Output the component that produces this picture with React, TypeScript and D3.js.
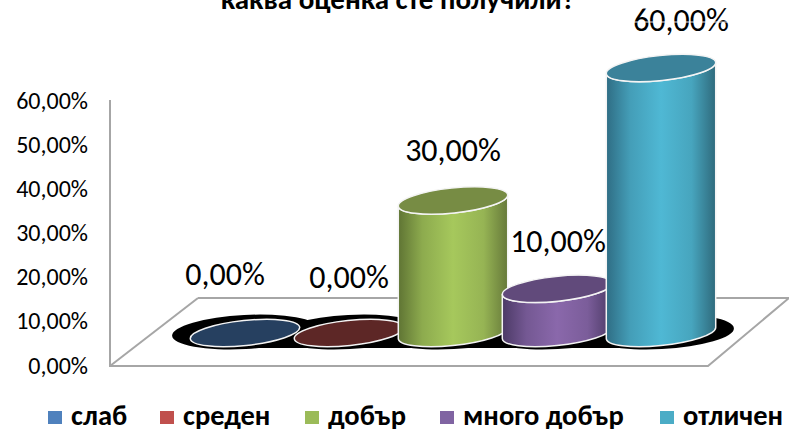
import React from "react";
import * as d3 from "d3";

const categories = ["слаб", "среден", "добър", "много добър", "отличен"];
const values = [0, 0, 30, 10, 60];
const valueLabels = ["0,00%", "0,00%", "30,00%", "10,00%", "60,00%"];
const ticks = [0, 10, 20, 30, 40, 50, 60];
const title = "каква оценка сте получили?";
const legendSquareX = [48, 160, 305, 440, 660];
const labelAnchors = [[225, 285], [349, 288], [453, 161], [558, 252], [681, 31]];
const sideColors = [
  ["#1c3350", "#376092", "#1c3350"],
  ["#5c1f1e", "#a84644", "#5c1f1e"],
  ["#5f7434", "#a6c85c", "#66793a"],
  ["#4c3a66", "#8a68ab", "#4c3a66"],
  ["#2f6d84", "#4fb8d4", "#2f6a7c"],
];
const topColors = ["#264060", "#5d2726", "#778c44", "#614a7b", "#3b829a"];
const legendColors = ["#4f81bd", "#c0504d", "#9bbb59", "#8064a2", "#4bacc6"];

const FONT = "Carlito, Lato, 'Open Sans', sans-serif";

const axisY = d3.scaleLinear().domain([0, 60]).range([366, 101]);
const barY = d3.scaleLinear().domain([0, 60]).range([333, 68]);
const barX = d3.scalePoint<string>().domain(categories).range([245, 661]);

const RX = 55;
const RY = 12.5;
const TILT = -6;

function edge(cx: number, cy: number, sign: number) {
  const a = (TILT * Math.PI) / 180;
  const tx = Math.atan((-RY * Math.sin(a)) / (RX * Math.cos(a)));
  const ex = RX * Math.cos(tx) * Math.cos(a) - RY * Math.sin(tx) * Math.sin(a);
  const ey = RX * Math.cos(tx) * Math.sin(a) + RY * Math.sin(tx) * Math.cos(a);
  return [cx + sign * ex, cy + sign * ey];
}

function bodyPath(cx: number, top: number, bottom: number) {
  const p = d3.path();
  const [lx, ly] = edge(cx, top, -1);
  const [rx, ry] = edge(cx, top, 1);
  const [lbx, lby] = edge(cx, bottom, -1);
  const [rbx, rby] = edge(cx, bottom, 1);
  p.moveTo(lx, ly);
  p.lineTo(lbx, lby);
  return `${p.toString()}A${RX},${RY} ${TILT} 0 0 ${rbx},${rby}L${rx},${ry}A${RX},${RY} ${TILT} 0 1 ${lx},${ly}Z`;
}

export default function App() {
  const floor = d3.line()([[198, 298], [789, 298]]) ?? "";
  const side = d3.line()([[110, 366], [198, 298]]) ?? "";
  const front = d3.line()([[110, 100], [110, 366], [708, 366], [789, 298]]) ?? "";
  const first = barX(categories[0]) as number;
  const last = barX(categories[categories.length - 1]) as number;
  return (
    <svg width={789} height={431} style={{ position: "absolute", left: 0, top: 0, background: "#fff" }}>
      <defs>
        {sideColors.map((c, i) => (
          <linearGradient id={`g${i}`} key={i} x1="0" x2="1" y1="0" y2="0">
            <stop offset="0" stopColor={c[0]} />
            <stop offset="0.22" stopColor={d3.interpolateRgb(c[0], c[1])(0.65)} />
            <stop offset="0.5" stopColor={c[1]} />
            <stop offset="0.78" stopColor={d3.interpolateRgb(c[2], c[1])(0.75)} />
            <stop offset="1" stopColor={c[2]} />
          </linearGradient>
        ))}
      </defs>
      <text x={398} y={9} textAnchor="middle" fontFamily={FONT} fontWeight={700} fontSize={29} fill="#000">{title}</text>

      <path d={floor} fill="none" stroke="#a6a6a6" strokeWidth={2} />
      <path d={side} fill="none" stroke="#a6a6a6" strokeWidth={2} />
      <path d={front} fill="none" stroke="#a6a6a6" strokeWidth={2} />

      {ticks.map((t) => (
        <text key={t} x={88} y={axisY(t) + 7.5} textAnchor="end" fontFamily={FONT} fontSize={24} fill="#000">
          {`${t},00%`}
        </text>
      ))}

      <rect x={first} y={322} width={last - first} height={26} fill="#000" />
      {categories.map((c) => (
        <ellipse key={c} cx={barX(c)} cy={332} rx={73} ry={17} fill="#000" transform={`rotate(-3 ${barX(c)} 332)`} />
      ))}

      {categories.map((c, i) => {
        const cx = barX(c) as number;
        const top = barY(values[i]);
        const h = values[i] > 0;
        return (
          <g key={c} stroke="#f4f4f4" strokeWidth={1.5}>
            {h && <path d={bodyPath(cx, top, barY(0))} fill={`url(#g${i})`} />}
            <ellipse cx={cx} cy={top} rx={RX} ry={RY} fill={topColors[i]} transform={`rotate(${TILT} ${cx} ${top})`} />
          </g>
        );
      })}

      {valueLabels.map((l, i) => (
        <text key={i} x={labelAnchors[i][0]} y={labelAnchors[i][1]} textAnchor="middle" fontFamily={FONT} fontSize={32} fill="#000">{l}</text>
      ))}
      <path d={d3.line()([[630, 22], [735, 22]]) ?? ""} stroke="#fff" strokeWidth={1} opacity={0.9} />

      {categories.map((c, i) => (
        <g key={c}>
          <rect x={legendSquareX[i]} y={411} width={14} height={13} fill={legendColors[i]} />
          <text x={legendSquareX[i] + 23} y={424.5} fontFamily={FONT} fontWeight={700} fontSize={28.5} fill="#000">{c}</text>
        </g>
      ))}
    </svg>
  );
}
